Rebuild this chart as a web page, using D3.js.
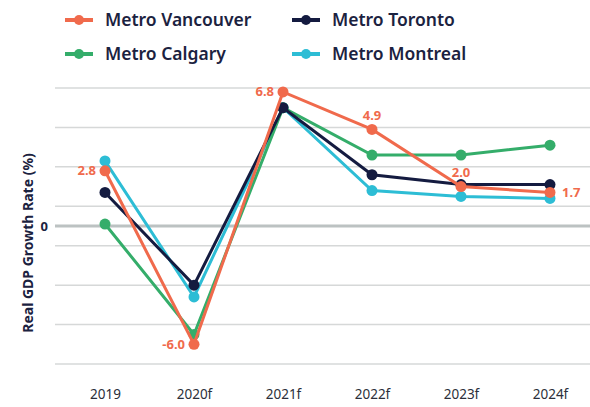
<!DOCTYPE html>
<html>
<head>
<meta charset="utf-8">
<script src="https://cdn.jsdelivr.net/npm/d3@7"></script>
<style>
  body { margin: 0; background: #fff; }
  text { font-family: "Noto Sans", "Open Sans", sans-serif; }
</style>
</head>
<body>
<script>
// Data
var years = ["2019", "2020f", "2021f", "2022f", "2023f", "2024f"];
var vancouver = [2.8, -6.0, 6.8, 4.9, 2.0, 1.7];
var toronto = [1.7, -3.0, 6.0, 2.6, 2.1, 2.1];
var calgary = [0.1, -5.5, 6.0, 3.6, 3.6, 4.1];
var montreal = [3.3, -3.6, 6.0, 1.8, 1.5, 1.4];
var gridValues = [-7, -5, -3, -1, 1, 3, 5, 7];
var seriesNames = ["Metro Vancouver", "Metro Toronto", "Metro Calgary", "Metro Montreal"];

var colors = {
  "Metro Vancouver": "#f06a4c",
  "Metro Toronto": "#141b40",
  "Metro Calgary": "#34ad6a",
  "Metro Montreal": "#2dbdd5"
};

var series = [
  {name: "Metro Montreal", values: montreal},
  {name: "Metro Calgary", values: calgary},
  {name: "Metro Toronto", values: toronto},
  {name: "Metro Vancouver", values: vancouver}
];

var width = 590, height = 407;

var svg = d3.select("body").append("svg")
    .attr("width", width)
    .attr("height", height);

// Scales
var x = d3.scalePoint().domain(years).range([105, 550]);
var y = d3.scaleLinear().domain([-7, 7]).range([364, 88]);

// Gridlines
svg.append("g")
    .selectAll("line")
    .data(gridValues)
    .enter().append("line")
    .attr("x1", 55).attr("x2", 590)
    .attr("y1", d => y(d)).attr("y2", d => y(d))
    .attr("stroke", "#d6d8d8")
    .attr("stroke-width", 1.5);

// Zero line
svg.append("line")
    .attr("x1", 55).attr("x2", 590)
    .attr("y1", y(0)).attr("y2", y(0))
    .attr("stroke", "#bcc2c2")
    .attr("stroke-width", 3);

svg.append("text")
    .attr("x", 48).attr("y", y(0))
    .attr("dy", "0.35em")
    .attr("text-anchor", "end")
    .attr("font-size", 13)
    .attr("font-weight", "bold")
    .attr("fill", "#1b2240")
    .text("0");

// Y axis title
svg.append("text")
    .attr("transform", "translate(28," + 243 + ") rotate(-90)")
    .attr("text-anchor", "middle")
    .attr("dy", "0.35em")
    .attr("font-size", 14)
    .attr("font-weight", "bold")
    .attr("fill", "#1b2240")
    .text("Real GDP Growth Rate (%)");

// X axis labels
var xAxis = svg.append("g")
    .attr("transform", "translate(0,389)")
    .call(d3.axisBottom(x).tickSize(0).tickPadding(0));
xAxis.select(".domain").remove();
xAxis.selectAll("text")
    .attr("font-family", "Noto Sans, sans-serif")
    .attr("font-size", 13.5)
    .attr("fill", "#2b2f3a");

// Lines
var line = d3.line()
    .x((d, i) => x(years[i]))
    .y(d => y(d));

var groups = svg.selectAll(".series")
    .data(series)
    .enter().append("g")
    .attr("class", "series");

groups.append("path")
    .attr("d", d => line(d.values))
    .attr("fill", "none")
    .attr("stroke", d => colors[d.name])
    .attr("stroke-width", 3);

groups.selectAll("circle")
    .data(d => d.values.map((v, i) => ({v: v, i: i, name: d.name})))
    .enter().append("circle")
    .attr("cx", d => x(years[d.i]))
    .attr("cy", d => y(d.v))
    .attr("r", 5.5)
    .attr("fill", d => colors[d.name]);

// Value labels for Vancouver
var labelPos = ["left", "left", "left", "above", "above", "right"];
svg.append("g")
    .selectAll("text")
    .data(vancouver)
    .enter().append("text")
    .attr("x", (d, i) => labelPos[i] == "left" ? x(years[i]) - 9 : labelPos[i] == "right" ? x(years[i]) + 12 : x(years[i]))
    .attr("y", (d, i) => labelPos[i] == "above" ? y(d) - 14 : y(d))
    .attr("dy", "0.35em")
    .attr("text-anchor", (d, i) => labelPos[i] == "left" ? "end" : labelPos[i] == "right" ? "start" : "middle")
    .attr("font-size", 13)
    .attr("font-weight", "bold")
    .attr("fill", colors["Metro Vancouver"])
    .text(d => d.toFixed(1));

// Legend
var legendX = [65, 292], legendY = [20, 54];
var legend = svg.append("g")
    .selectAll("g")
    .data(seriesNames)
    .enter().append("g")
    .attr("transform", (d, i) => "translate(" + legendX[i % 2] + "," + legendY[Math.floor(i / 2)] + ")");

legend.append("line")
    .attr("x1", 0).attr("x2", 28)
    .attr("stroke", d => colors[d])
    .attr("stroke-width", 4);
legend.append("circle")
    .attr("cx", 14).attr("r", 5)
    .attr("fill", d => colors[d]);
legend.append("text")
    .attr("x", 40)
    .attr("dy", "0.35em")
    .attr("font-size", 17.5)
    .attr("font-weight", 600)
    .attr("fill", "#1b2240")
    .text(d => d);
</script>
</body>
</html>
